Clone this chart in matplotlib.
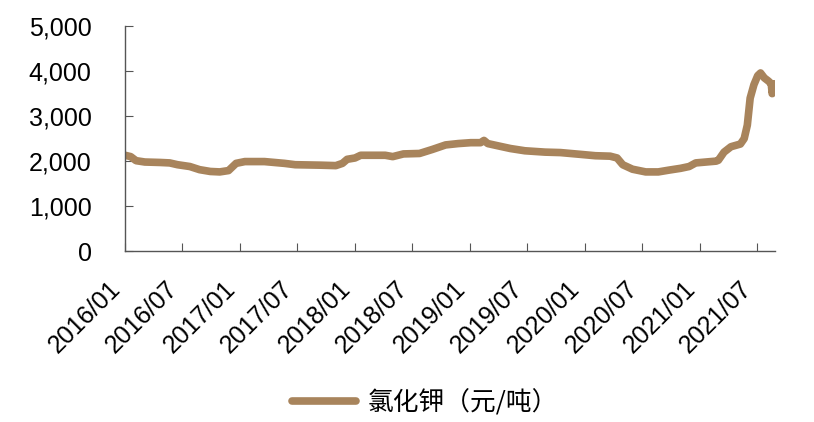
import pandas as pd
import matplotlib
matplotlib.use("Agg")
import matplotlib.pyplot as plt
import matplotlib.dates as mdates
from matplotlib.ticker import FuncFormatter, MultipleLocator

# potassium chloride price, yuan/ton
dates = ['2016-01-01', '2016-01-19', '2016-02-05', '2016-03-04', '2016-04-22', '2016-05-22',
         '2016-06-16', '2016-07-25', '2016-08-25', '2016-09-28', '2016-10-28', '2016-11-25',
         '2016-12-19', '2017-01-16', '2017-03-19', '2017-05-22', '2017-06-25', '2017-09-13',
         '2017-11-01', '2017-11-22', '2017-12-07', '2018-01-01', '2018-01-19', '2018-04-07',
         '2018-05-01', '2018-06-04', '2018-07-25', '2018-09-04', '2018-10-16', '2018-11-25',
         '2019-01-04', '2019-02-04', '2019-02-15', '2019-02-27', '2019-04-07', '2019-05-10',
         '2019-06-25', '2019-08-28', '2019-10-16', '2019-12-19', '2020-02-04', '2020-03-22',
         '2020-04-13', '2020-05-01', '2020-06-01', '2020-07-13', '2020-08-22', '2020-09-25',
         '2020-11-01', '2020-11-28', '2020-12-19', '2021-02-22', '2021-03-01', '2021-03-19',
         '2021-04-10', '2021-05-10', '2021-05-22', '2021-06-01', '2021-06-10', '2021-06-22',
         '2021-07-04', '2021-07-13', '2021-07-25', '2021-08-07', '2021-08-16', '2021-08-19',
         '2021-08-28']
prices = [2130, 2100, 2010, 1980, 1970, 1960,
          1920, 1880, 1810, 1770, 1760, 1790,
          1950, 1990, 1990, 1950, 1920, 1910,
          1900, 1950, 2040, 2070, 2130, 2130,
          2100, 2160, 2170, 2260, 2360, 2390,
          2410, 2410, 2460, 2390, 2330, 2280,
          2230, 2200, 2190, 2150, 2120, 2110,
          2070, 1920, 1820, 1760, 1760, 1800,
          1840, 1880, 1960, 2000, 2020, 2200,
          2320, 2380, 2500, 2800, 3400, 3700,
          3900, 3960, 3850, 3780, 3720, 3500,
          3720]
series_name = '氯化钾（元/吨）'
tick_dates = ['2016-01-01', '2016-07-01', '2017-01-01', '2017-07-01', '2018-01-01', '2018-07-01',
              '2019-01-01', '2019-07-01', '2020-01-01', '2020-07-01', '2021-01-01', '2021-07-01']

plt.rcParams['font.family'] = ['Liberation Sans', 'DejaVu Sans']

x = pd.to_datetime(dates)
ticks = pd.to_datetime(tick_dates)
color = '#A8845C'

fig = plt.figure(figsize=(8.14, 4.22), dpi=100)
ax = fig.add_axes([0.1536, 0.405, 0.7985, 0.533])

ax.plot(x, prices, color=color, linewidth=5.5, solid_capstyle='round', solid_joinstyle='round', label=series_name)

ax.set_ylim(0, 5000)
ax.set_xlim(x[0], x[-1])
ax.yaxis.set_major_locator(MultipleLocator(1000))
ax.yaxis.set_major_formatter(FuncFormatter(lambda v, p: '{:,.0f}'.format(v)))
ax.set_xticks(ticks)
ax.xaxis.set_major_formatter(mdates.DateFormatter('%Y/%m'))

for s in ['top', 'right']:
    ax.spines[s].set_visible(False)
for s in ['left', 'bottom']:
    ax.spines[s].set_color('#555555')
    ax.spines[s].set_linewidth(1)

ax.tick_params(axis='y', direction='in', length=6, color='#555555', pad=24, labelsize=18)
ax.tick_params(axis='x', direction='in', length=6, color='#555555', pad=18, labelsize=18)
for lab in ax.get_xticklabels():
    lab.set_rotation(45)
    lab.set_ha('right')

leg = fig.legend(loc='center', bbox_to_anchor=(0.522, 0.045), frameon=False, handlelength=2.5,
                 handletextpad=0.45, prop={'family': ['Noto Sans CJK SC'], 'size': 18.5})

fig.savefig('out.png', dpi=100)
